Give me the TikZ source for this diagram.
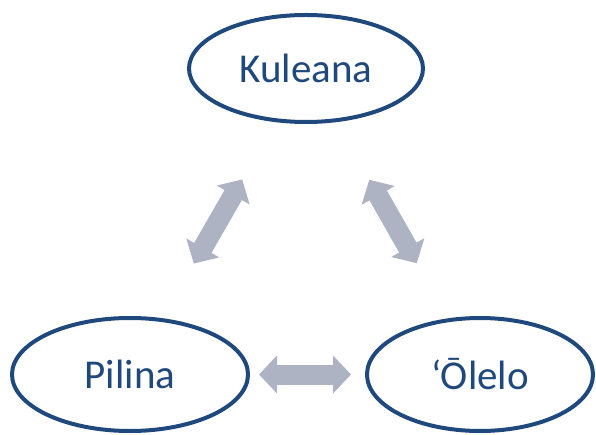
\documentclass[tikz,border=0pt]{standalone}
\usepackage{fontspec}
\setmainfont{Carlito}
\usepackage{tikz}
\usetikzlibrary{shapes.geometric, arrows.meta}
\definecolor{ringblue}{RGB}{31,73,125}
\definecolor{arrowgray}{RGB}{173,179,195}

\begin{document}
\begin{tikzpicture}[x=1pt, y=-1pt,
    every node/.style={ellipse, draw=ringblue, line width=4pt, text=ringblue,
      font=\fontsize{41}{49}\selectfont, inner sep=0pt},
    link/.style={arrowgray, line width=20pt,
      {Triangle[width=37pt,length=18pt]}-{Triangle[width=37pt,length=18pt]}}]
    \useasboundingbox (0,0) rectangle (596,435);
    \node [minimum width=234pt, minimum height=107pt] (kuleana) at (306,68.5) {Kuleana};
    \node [minimum width=236pt, minimum height=113pt] (pilina) at (130,374.5) {Pilina};
    \node [minimum width=226pt, minimum height=113pt] (olelo) at (480,374.5) {‘Ōlelo};
    \draw [link, shorten <=128pt, shorten >=128pt] (kuleana.center) -- (pilina.center);
    \draw [link, shorten <=128pt, shorten >=128pt] (kuleana.center) -- (olelo.center);
    \draw [link, shorten <=129pt, shorten >=129pt] (pilina.center) -- (olelo.center);
  \end{tikzpicture}
\end{document}
